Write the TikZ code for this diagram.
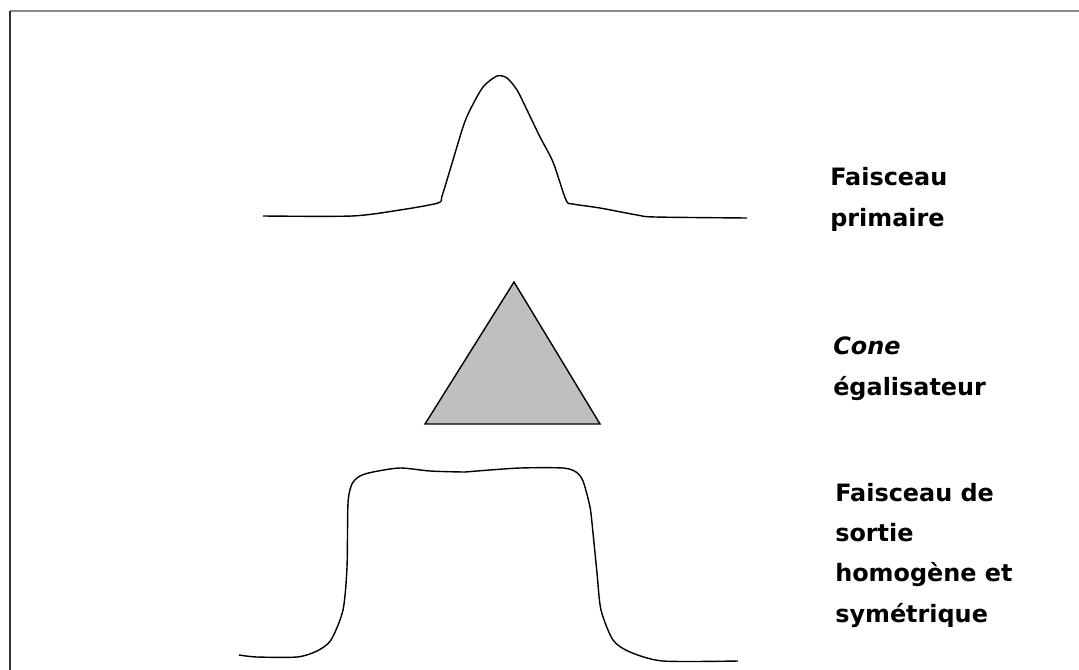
\documentclass[tikz,border=0pt]{standalone}
\usepackage{fontspec}
\setmainfont{DejaVu Sans}
\usepackage{tikz}
\usetikzlibrary{positioning}
\tikzset{faisceau/.style={line width=1pt,line join=round,smooth,tension=0.45},cone/.style={draw=black,line width=1pt,fill=black!25},legende/.style={anchor=base west,align=left,inner sep=0pt,font=\fontsize{17}{28.5}\selectfont\bfseries}}

\begin{document}
\begin{tikzpicture}[x=0.025cm,y=-0.025cm]
\useasboundingbox (0,0) rectangle (1079,670);
\draw[black!45,line width=2pt] (10,11)--(1079,11);
\draw[black!80,line width=1.4pt] (10,11)--(10,670);
\draw[faisceau] plot coordinates {(263,216) (352,216) (400,210) (438,203) (442,196) (450,170) (463,127) (470,110) (483,87) (497,76) (507,78) (517,90) (527,110) (540,137) (553,162) (566,200) (573,204) (600,208) (637,215) (655,217) (747,218)};
\draw[cone] (514,282)--(600,424)--(425,424)--cycle;
\draw[faisceau] plot coordinates {(239,655) (257,657) (297,657) (317,651) (331,640) (343,610) (347,567) (348,503) (352,484) (360,476) (373,472) (400,468) (430,471) (465,472) (477,471) (520,468) (563,468) (576,472) (583,481) (590,507) (593,533) (597,573) (601,610) (613,640) (630,652) (663,661) (738,661)};
\node[legende] (primaire) at (830,226) {Faisceau\\primaire};
\node[legende] (egal) at (833,395) {\itshape Cone\\égalisateur};
\node[legende] (sortie) at (835,622) {Faisceau de\\sortie\\homogène et\\symétrique};
\end{tikzpicture}
\end{document}
